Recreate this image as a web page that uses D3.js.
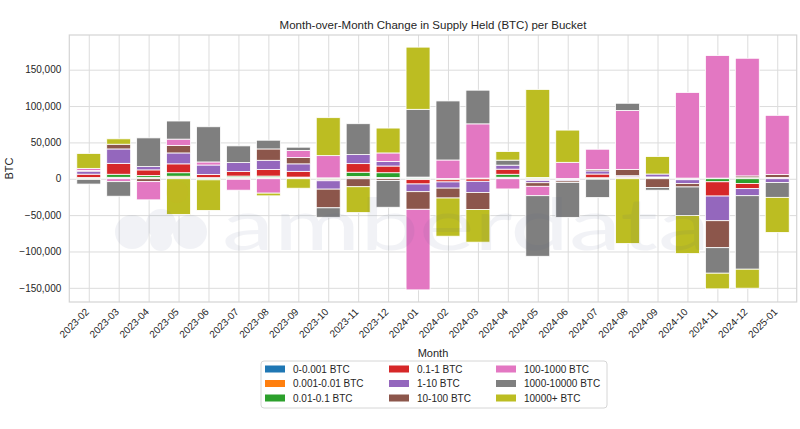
<!DOCTYPE HTML>
<html lang="en">
	<head>
		<meta charset="utf-8">
		<title>Supply Held per Bucket</title>
		<style type="text/css">
			body {
				margin: 0;
				background-color: #ffffff;
				font-family: "Liberation Sans", Arial, sans-serif;
			}
			text { fill: #262626; }
		</style>
		<script src="https://d3js.org/d3.v7.min.js"></script>
	</head>
	<body>
		<div id="display"></div>
		<script>

			// month-over-month change, BTC, one array per bucket
			var months = ["2023-02","2023-03","2023-04","2023-05","2023-06","2023-07","2023-08","2023-09","2023-10","2023-11","2023-12",
				"2024-01","2024-02","2024-03","2024-04","2024-05","2024-06","2024-07","2024-08","2024-09","2024-10","2024-11","2024-12","2025-01"];
			var buckets = ["0-0.001 BTC","0.001-0.01 BTC","0.01-0.1 BTC","0.1-1 BTC","1-10 BTC","10-100 BTC","100-1000 BTC","1000-10000 BTC","10000+ BTC"];

			var b_0_0001     = [500, 1000, 1000, 1700, 800, 1000, 1000, 700, 600, 1500, 1000, 1200, 300, 500, 1100, 1000, 300, 700, 400, 500, 500, 500, 700, 900];
			var b_0001_001   = [-800, 1000, 1000, 1800, 700, 1000, 1000, 600, 600, 1500, 800, 1100, 0, 400, 1000, 800, 200, 700, 300, 500, 400, 400, 700, 900];
			var b_001_01     = [1200, 4200, 2500, 4800, -1500, 1700, 1700, 1000, -1500, 6000, 6500, -1200, -1400, -300, 4100, -1200, -500, -600, 1200, 500, -700, -4200, -6500, 0];
			var b_01_1       = [4600, 15000, 7700, 12200, 4500, 6200, 9000, 7900, -1300, 11800, 9200, -6000, -3000, -3200, 7000, -1100, -1000, 5100, 800, 1000, -700, -19600, -7100, 0];
			var b_1_10       = [4200, 19800, 4500, 15000, 12900, 12300, 12700, 10300, -11500, 12400, 6300, -10600, -8500, -15400, 5500, -3200, -1500, 4300, 1500, 4000, -5300, -33900, -9700, -5300];
			var b_10_100     = [800, 6500, -4000, 10400, 0, -700, 15600, 8600, -25700, -11000, -2500, -24200, -13600, -23300, 0, -4900, -2000, 1800, 8700, -12000, -4600, -37100, 2500, 4000];
			var b_100_1000   = [3000, -4000, -25000, 8600, 4200, -15000, -19800, 9900, 30600, 0, 11700, -110800, 25500, 74600, -14000, -12900, 22100, 28000, 81000, 0, 117700, 168500, 161800, 81400];
			var b_1000_10000 = [-6500, -20000, 39500, 24900, 48400, 23000, 12000, 4400, -13000, 42500, -36700, 93200, 81200, 46300, 6900, -83300, -48100, -25200, 9900, -3700, -39200, -35100, -101100, -20300];
			var b_10000_plus = [20500, 7400, 0, -49000, -42000, 0, -3700, -13000, 52200, -35500, 34200, 85500, -52500, -45000, 11800, 121000, 44300, 0, -89000, 24000, -52400, -21500, -26100, -48200];

			var yTicks = [-150000, -100000, -50000, 0, 50000, 100000, 150000];
			var colors = ["#1f77b4","#ff7f0e","#2ca02c","#d62728","#9467bd","#8c564b","#e377c2","#7f7f7f","#bcbd22"];

			var series_ = [b_0_0001, b_0001_001, b_001_01, b_01_1, b_1_10, b_10_100, b_100_1000, b_1000_10000, b_10000_plus];

			var width = 800, height = 429;
			var plot = {left: 69.3, right: 796.7, top: 35, bottom: 302};

			function drawChart()
			{
				var rows = months.map(function(m, i) {
					var row = {month: m};
					buckets.forEach(function(b, k) { row[b] = series_[k][i]; });
					return row;
				});

				var stacked = d3.stack()
					.keys(buckets)
					.offset(d3.stackOffsetDiverging)(rows);

				var lo = d3.min(stacked, function(s) { return d3.min(s, function(d) { return d[0]; }); });
				var hi = d3.max(stacked, function(s) { return d3.max(s, function(d) { return d[1]; }); });
				var pad = (hi - lo) * 0.05;

				// matplotlib-like limits for bars of width 0.8
				var x = d3.scaleLinear().domain([-0.65, months.length - 0.35]).range([plot.left, plot.right]);
				var y = d3.scaleLinear().domain([lo - pad, hi + pad]).range([plot.bottom, plot.top]);
				var barW = 0.8;

				var svg = d3.select("#display").append("svg")
					.attr("width", width)
					.attr("height", height)
					.style("font-family", '"Liberation Sans", Arial, sans-serif');

				// grid
				svg.append("g")
					.attr("transform", "translate(0," + plot.bottom + ")")
					.call(d3.axisBottom(x).tickValues(d3.range(months.length)).tickSize(-(plot.bottom - plot.top)).tickFormat(""))
					.call(function(g) {
						g.select(".domain").remove();
						g.selectAll("line").attr("stroke", "#dcdcdc").attr("stroke-width", 1);
					});
				svg.append("g")
					.attr("transform", "translate(" + plot.left + ",0)")
					.call(d3.axisLeft(y).tickValues(yTicks).tickSize(-(plot.right - plot.left)).tickFormat(""))
					.call(function(g) {
						g.select(".domain").remove();
						g.selectAll("line").attr("stroke", "#dcdcdc").attr("stroke-width", 1);
					});

				// bars
				svg.append("g").selectAll("g")
					.data(stacked)
					.join("g")
						.attr("fill", function(d, i) { return colors[i]; })
					.selectAll("rect")
					.data(function(d) { return d; })
					.join("rect")
						.attr("x", function(d, i) { return x(i - barW / 2); })
						.attr("width", x(barW) - x(0))
						.attr("y", function(d) { return y(d[1]); })
						.attr("height", function(d) { return Math.max(0, y(d[0]) - y(d[1])); })
						.attr("stroke", "#ffffff")
						.attr("stroke-width", 0.8);

				// frame
				svg.append("rect")
					.attr("x", plot.left).attr("y", plot.top)
					.attr("width", plot.right - plot.left).attr("height", plot.bottom - plot.top)
					.attr("fill", "none").attr("stroke", "#d4d4d4").attr("stroke-width", 1.2);

				// axes labels
				var yAxis = svg.append("g")
					.attr("transform", "translate(" + plot.left + ",0)")
					.call(d3.axisLeft(y).tickValues(yTicks).tickSize(0).tickPadding(8).tickFormat(d3.format(",")));
				yAxis.select(".domain").remove();
				yAxis.selectAll("text").style("font-size", "10px").attr("fill", "#262626");

				var xAxis = svg.append("g")
					.attr("transform", "translate(0," + plot.bottom + ")")
					.call(d3.axisBottom(x).tickValues(d3.range(months.length)).tickSize(0).tickFormat(function(i) { return months[i]; }));
				xAxis.select(".domain").remove();
				xAxis.selectAll("text")
					.style("font-size", "10px")
					.attr("fill", "#262626")
					.attr("text-anchor", "end")
					.attr("dy", "0.35em")
					.attr("y", 0)
					.attr("transform", "translate(-2,8) rotate(-45)");

				svg.append("text")
					.attr("x", (plot.left + plot.right) / 2)
					.attr("y", 29)
					.attr("text-anchor", "middle")
					.style("font-size", "11.5px")
					.text("Month-over-Month Change in Supply Held (BTC) per Bucket");

				svg.append("text")
					.attr("x", (plot.left + plot.right) / 2)
					.attr("y", 357)
					.attr("text-anchor", "middle")
					.style("font-size", "11px")
					.text("Month");

				svg.append("text")
					.attr("transform", "translate(13," + ((plot.top + plot.bottom) / 2) + ") rotate(-90)")
					.attr("text-anchor", "middle")
					.style("font-size", "11px")
					.text("BTC");

				// watermark
				var wm = svg.append("g").attr("opacity", 0.07).attr("fill", "#4a5a8a");
				[[132, 232, 17], [161, 224, 15], [190, 232, 17], [161, 240, 11]].forEach(function(c) {
					wm.append("circle").attr("cx", c[0]).attr("cy", c[1]).attr("r", c[2]);
				});
				wm.append("text")
					.attr("x", 222).attr("y", 250)
					.attr("textLength", 488)
					.attr("lengthAdjust", "spacingAndGlyphs")
					.style("font-family", "Lato, 'Open Sans', sans-serif")
					.style("font-size", "72px")
					.style("fill", "#4a5a8a")
					.text("amberdata");
				svg.append("circle").attr("cx", 177).attr("cy", 192).attr("r", 11)
					.attr("fill", "#f5a623").attr("opacity", 0.06);

				// legend
				var lg = svg.append("g").attr("transform", "translate(261,361)");
				lg.append("rect")
					.attr("width", 346).attr("height", 47)
					.attr("rx", 3)
					.attr("fill", "#ffffff").attr("fill-opacity", 0.85)
					.attr("stroke", "#d6d6d6");
				var colX = [4, 128, 235];
				buckets.forEach(function(b, k) {
					var c = Math.floor(k / 3), r = k % 3;
					var item = lg.append("g").attr("transform", "translate(" + colX[c] + "," + (8 + r * 14.5) + ")");
					item.append("rect").attr("y", -3.5).attr("width", 20).attr("height", 7).attr("fill", colors[k]);
					item.append("text").attr("x", 28).attr("dy", "0.35em").style("font-size", "10px").text(b);
				});
			}

			drawChart();

		</script>
	</body>
</html>
